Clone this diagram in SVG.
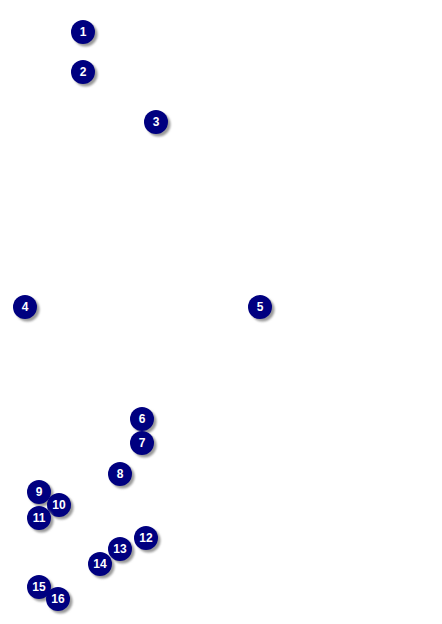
<svg xmlns="http://www.w3.org/2000/svg" width="442" height="624" viewBox="0 0 442 624">
<style>
.sh{fill:#9a9a9a;filter:url(#b)}
.c{fill:#000080}
.t{fill:#fff;font-family:"Liberation Sans",Arial,sans-serif;font-weight:bold;font-size:12px;text-anchor:middle;dominant-baseline:central}
</style>
<defs>
<filter id="b" x="-50%" y="-50%" width="200%" height="200%"><feGaussianBlur stdDeviation="1"/></filter>
<g id="m"><circle class="sh" cx="2.5" cy="2.5" r="12"/><circle class="c" r="12"/></g>
</defs>
<rect width="442" height="624" fill="#fff"/>
<g id="connectors"></g>
<g id="n1" transform="translate(83,32)"><use href="#m"/><text class="t">1</text></g>
<g id="n2" transform="translate(83,72)"><use href="#m"/><text class="t">2</text></g>
<g id="n3" transform="translate(156,122)"><use href="#m"/><text class="t">3</text></g>
<g id="n4" transform="translate(25,307)"><use href="#m"/><text class="t">4</text></g>
<g id="n5" transform="translate(260,307)"><use href="#m"/><text class="t">5</text></g>
<g id="n6" transform="translate(142,419)"><use href="#m"/><text class="t">6</text></g>
<g id="n7" transform="translate(142,443)"><use href="#m"/><text class="t">7</text></g>
<g id="n8" transform="translate(120,474)"><use href="#m"/><text class="t">8</text></g>
<g id="n9" transform="translate(39,492)"><use href="#m"/><text class="t">9</text></g>
<g id="n10" transform="translate(59,505)"><use href="#m"/><text class="t">10</text></g>
<g id="n11" transform="translate(39,518)"><use href="#m"/><text class="t">11</text></g>
<g id="n12" transform="translate(146,538)"><use href="#m"/><text class="t">12</text></g>
<g id="n13" transform="translate(120,549)"><use href="#m"/><text class="t">13</text></g>
<g id="n14" transform="translate(100,564)"><use href="#m"/><text class="t">14</text></g>
<g id="n15" transform="translate(39,587)"><use href="#m"/><text class="t">15</text></g>
<g id="n16" transform="translate(58,599)"><use href="#m"/><text class="t">16</text></g>
</svg>
